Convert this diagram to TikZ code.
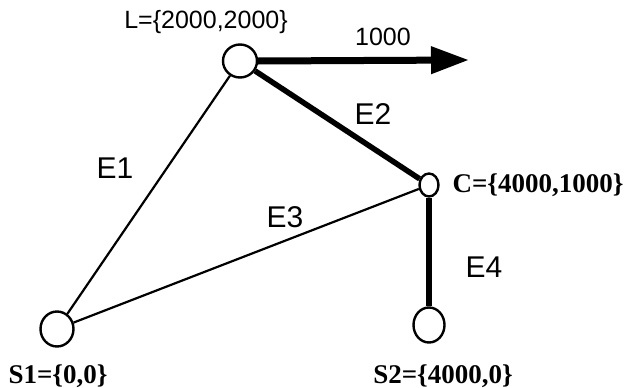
\documentclass[tikz,border=0pt]{standalone}
\usepackage{fontspec}
\setmainfont{Liberation Serif}
\newfontfamily\helv{Liberation Sans}
\usetikzlibrary{arrows.meta,shapes.geometric}
\begin{document}
\begin{tikzpicture}[x=1pt,y=-1pt,
  vert/.style={draw,line width=2.4pt,ellipse,inner sep=0pt},
  thinedge/.style={line width=2.2pt},
  thickedge/.style={line width=5.5pt},
  elabel/.style={font=\helv\fontsize{30}{30}\selectfont},
  clabel/.style={font=\bfseries\fontsize{27}{27}\selectfont},
  slabel/.style={font=\helv\fontsize{25}{25}\selectfont}]
\useasboundingbox (0,0) rectangle (624,388);
\node[vert,minimum width=34pt,minimum height=33pt] (L) at (240,61) {};
\node[vert,minimum width=19pt,minimum height=23pt] (C) at (429,185) {};
\node[vert,minimum width=33pt,minimum height=35pt] (S1) at (57,329) {};
\node[vert,minimum width=31pt,minimum height=35pt] (S2) at (429,325) {};
\coordinate (A) at (469,60);
\draw[thinedge] (L) -- (S1);
\draw[thickedge] (L) -- (C);
\draw[thinedge] (S1) -- (C);
\draw[thickedge] (C) -- (S2);
\draw[line width=7pt,-{Triangle[length=38pt,width=26pt]}] (L.east) -- (A);
\node[slabel] (Ll) at (206,22) {L=\{2000,2000\}};
\node[clabel,anchor=west] (Cl) at (449,185) {C=\{4000,1000\}};
\node[clabel] (S1l) at (58,376) {S1=\{0,0\}};
\node[clabel] (S2l) at (443,376) {S2=\{4000,0\}};
\node[elabel] (E1) at (115,168) {E1};
\node[elabel] (E2) at (373,114) {E2};
\node[elabel] (E3) at (285,217) {E3};
\node[elabel] (E4) at (484,267) {E4};
\node[font=\helv\fontsize{25}{25}\selectfont] (W) at (383,37) {1000};
\end{tikzpicture}
\end{document}
